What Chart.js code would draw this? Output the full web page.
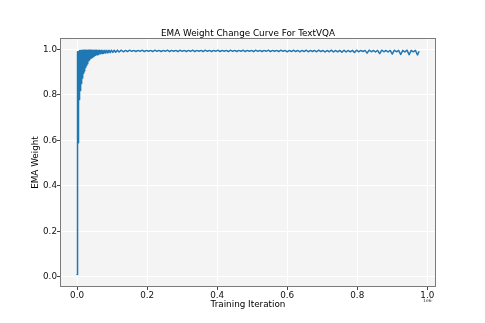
<!DOCTYPE html>
<html>
<head>
<meta charset="utf-8">
<script src="https://cdn.jsdelivr.net/npm/chart.js@4/dist/chart.umd.min.js"></script>
<style>
  html, body { margin: 0; padding: 0; background: #fff; }
  #wrap { width: 485px; height: 323px; }
</style>
</head>
<body>
<div id="wrap"><canvas id="myChart" width="485" height="323"></canvas></div>
<script>
const chartTitle = 'EMA Weight Change Curve For TextVQA';
const xLabel = 'Training Iteration';
const yLabel = 'EMA Weight';
const xTicks = [0, 200000, 400000, 600000, 800000, 1000000];
const yTicks = [0, 0.2, 0.4, 0.6, 0.8, 1.0];

// iterations / EMA weight (the band is a fast wobble)
const iterations = [
  0, 200, 400, 600, 800, 1000, 1300, 1600, 1900, 2200, 2500, 2800, 3100, 3400, 3700, 4000,
  4400, 4800, 5200, 5600, 6000, 6500, 7000, 7500, 8000, 8600, 9200, 9800, 10400, 11000,
  11600, 12300, 13000, 13700, 14400, 15200, 16000, 16800, 17600, 18500, 19400, 20300,
  21200, 22200, 23200, 24200, 25200, 26300, 27400, 28600, 29800, 31000, 32300, 33600,
  35000, 36400, 37900, 39400, 41000, 42600, 44300, 46000, 47800, 49600, 51500, 53400,
  55400, 57500, 59600, 61800, 64000, 66400, 68800, 71300, 73800, 76500, 79200, 82000,
  85000, 88000, 91000, 94500, 98000, 102000, 106000, 110000, 115000, 120000, 126000, 132000,
  138000, 144000, 150000, 156000, 162000, 168000, 174000, 180000, 186000, 192000,
  198000, 204000, 210000, 216000, 222000, 228000, 234000, 240000, 246000, 252000,
  258000, 264000, 270000, 276000, 282000, 288000, 294000, 300000, 306000, 312000,
  318000, 324000, 330000, 336000, 342000, 348000, 354000, 360000, 366000, 372000,
  378000, 384000, 390000, 396000, 402000, 408000, 414000, 420000, 426000, 432000,
  438000, 444000, 450000, 456000, 462000, 468000, 474000, 480000, 486000, 492000,
  498000, 504000, 510000, 516000, 522000, 528000, 534000, 540000, 546000, 552000,
  558000, 564000, 570000, 576000, 582000, 588000, 594000, 600000, 606000, 612000,
  618000, 624000, 630000, 636000, 642000, 648000, 654000, 660000, 666000, 672000,
  678000, 684000, 690000, 696000, 702000, 708000, 714000, 720000, 726000, 732000,
  738000, 744000, 750000, 756000, 762000, 768000, 774000, 780000, 786000, 792000, 798000,
  804000, 810000, 816000, 822000, 828000, 834000, 840000, 846000, 852000, 858000,
  864000, 870000, 876000, 882000, 888000, 894000, 900000, 906000, 912000, 918000,
  924000, 930000, 936000, 942000, 948000, 954000, 960000, 966000, 972000, 976000
];
const emaWeight = [
  0.010, 0.35, 0.80, 0.97, 0.99, 0.75, 0.99, 0.68, 0.99, 0.62, 0.99, 0.59, 0.99, 0.64, 0.99, 0.70,
  0.99, 0.74, 0.99, 0.78, 0.99, 0.80, 0.995, 0.81, 0.995, 0.82, 0.995, 0.83, 0.995, 0.84,
  0.996, 0.85, 0.996, 0.86, 0.996, 0.875, 0.996, 0.885, 0.997, 0.895, 0.997, 0.905,
  0.997, 0.913, 0.997, 0.921, 0.997, 0.930, 0.997, 0.937, 0.997, 0.944, 0.997, 0.950,
  0.997, 0.956, 0.997, 0.961, 0.997, 0.965, 0.997, 0.969, 0.997, 0.972, 0.997, 0.975,
  0.997, 0.977, 0.997, 0.979, 0.997, 0.981, 0.997, 0.982, 0.997, 0.983, 0.997, 0.984,
  0.997, 0.985, 0.997, 0.986, 0.997, 0.987, 0.997, 0.988, 0.997, 0.989, 0.997, 0.990,
  0.996, 0.991, 0.997, 0.992, 0.996, 0.991, 0.996, 0.992, 0.997, 0.991,
  0.996, 0.992, 0.996, 0.991, 0.997, 0.992, 0.996, 0.991, 0.996, 0.992,
  0.997, 0.991, 0.996, 0.992, 0.996, 0.991, 0.997, 0.992, 0.996, 0.991,
  0.996, 0.992, 0.997, 0.991, 0.996, 0.992, 0.996, 0.991, 0.997, 0.992,
  0.996, 0.991, 0.996, 0.992, 0.997, 0.991, 0.996, 0.992, 0.996, 0.991,
  0.997, 0.992, 0.996, 0.991, 0.996, 0.992, 0.997, 0.991, 0.996, 0.992,
  0.996, 0.991, 0.997, 0.992, 0.996, 0.991, 0.996, 0.992, 0.997, 0.991,
  0.996, 0.992, 0.996, 0.991, 0.997, 0.992, 0.996, 0.990, 0.996, 0.991,
  0.997, 0.991, 0.996, 0.990, 0.996, 0.991, 0.997, 0.990, 0.996, 0.991,
  0.996, 0.990, 0.997, 0.991, 0.996, 0.989, 0.996, 0.990, 0.997, 0.989,
  0.996, 0.990, 0.996, 0.988, 0.997, 0.989, 0.996, 0.990, 0.996, 0.987, 0.997,
  0.990, 0.996, 0.991, 0.996, 0.984, 0.997, 0.990, 0.996, 0.989, 0.996,
  0.982, 0.997, 0.990, 0.996, 0.989, 0.996, 0.980, 0.997, 0.990, 0.996,
  0.978, 0.996, 0.989, 0.997, 0.977, 0.996, 0.990, 0.996, 0.976, 0.990
];

const FONT = 'DejaVu Sans';
const FS = 8.8;

const points = iterations.map((it, i) => ({ x: it, y: emaWeight[i] }));

// plot background, frame, title and the "1e6" offset text
const axesDecor = {
  id: 'axesDecor',
  beforeDraw(chart) {
    const { ctx, chartArea: a } = chart;
    ctx.save();
    ctx.fillStyle = '#f4f4f4';
    ctx.fillRect(a.left, a.top, a.right - a.left, a.bottom - a.top);
    ctx.restore();
  },
  afterDraw(chart) {
    const { ctx, chartArea: a } = chart;
    ctx.save();
    ctx.strokeStyle = '#7a7a7a';
    ctx.lineWidth = 1;
    ctx.strokeRect(a.left + 0.5, a.top + 0.5, a.right - a.left - 1, a.bottom - a.top - 1);
    ctx.fillStyle = '#000';
    ctx.font = FS + 'px "' + FONT + '"';
    ctx.textAlign = 'center';
    ctx.textBaseline = 'middle';
    ctx.fillText(chartTitle, (a.left + a.right) / 2, 33.5);
    ctx.font = '4.5px "' + FONT + '"';
    ctx.fillStyle = '#333';
    ctx.fillText('1e6', chart.scales.x.getPixelForValue(1000000), 300.5);
    ctx.restore();
  }
};

const ctx = document.getElementById('myChart').getContext('2d');
new Chart(ctx, {
  type: 'line',
  data: {
    datasets: [{
      label: yLabel,
      data: points,
      borderColor: '#1f77b4',
      borderWidth: 1.5,
      borderJoinStyle: 'round',
      borderCapStyle: 'round',
      pointRadius: 0,
      tension: 0,
      fill: false
    }]
  },
  options: {
    responsive: false,
    animation: false,
    layout: { padding: { top: 38, right: 49, left: 0, bottom: 0 } },
    plugins: {
      legend: { display: false },
      title: { display: false },
      tooltip: { enabled: false }
    },
    scales: {
      x: {
        type: 'linear',
        min: -48800,
        max: 1024800,
        afterFit(scale) { scale.height = 36; },
        afterBuildTicks(scale) { scale.ticks = xTicks.map(v => ({ value: v })); },
        border: { display: false },
        grid: { color: '#ffffff', lineWidth: 1, tickColor: '#444', tickLength: 3 },
        ticks: {
          padding: 0,
          color: '#111',
          font: { family: FONT, size: FS },
          maxRotation: 0,
          callback: v => (v / 1000000).toFixed(1)
        },
        title: {
          display: true,
          text: xLabel,
          color: '#000',
          font: { family: FONT, size: FS },
          padding: { top: 0, bottom: 13 }
        }
      },
      y: {
        min: -0.0445,
        max: 1.0505,
        afterFit(scale) { scale.width = 60; },
        afterBuildTicks(scale) { scale.ticks = yTicks.map(v => ({ value: v })); },
        border: { display: false },
        grid: { color: '#ffffff', lineWidth: 1, tickColor: '#444', tickLength: 3 },
        ticks: {
          padding: 0,
          color: '#111',
          font: { family: FONT, size: FS },
          callback: v => v.toFixed(1)
        },
        title: {
          display: true,
          text: yLabel,
          color: '#000',
          font: { family: FONT, size: FS },
          padding: { top: 30.5, bottom: 0 }
        }
      }
    }
  },
  plugins: [axesDecor]
});
</script>
</body>
</html>
